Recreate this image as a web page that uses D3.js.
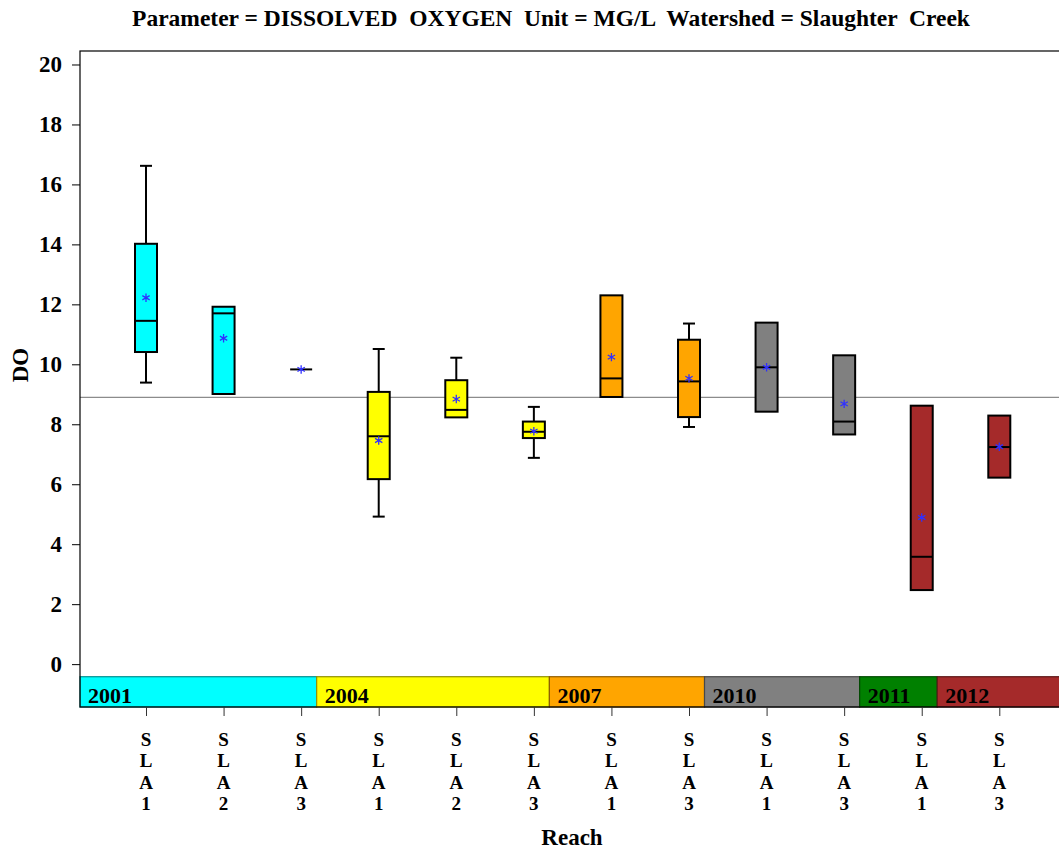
<!DOCTYPE html>
<html>
<head>
<meta charset="utf-8">
<script src="https://cdn.jsdelivr.net/npm/d3@7"></script>
<style>
    body { margin: 0; background: #fff; }
    svg text { font-family: 'Liberation Serif', serif; font-weight: bold; fill: #000; white-space: pre; }
</style>
</head>
<body>
<svg id="chart" width="1059" height="852"></svg>
<script>
// Box stats, one entry per reach/year group.
const reaches  = ['SLA1','SLA2','SLA3','SLA1','SLA2','SLA3','SLA1','SLA3','SLA1','SLA3','SLA1','SLA3'];
const boxColor = ['2001','2001','2001','2004','2004','2004','2007','2007','2010','2010','2012','2012'];
const whiskLo  = [9.39, 9.01, 9.83, 4.92, 8.23, 6.88, 8.91, 7.91, 8.42, 7.66, 2.47, 6.22];
const q1       = [10.41, 9.01, 9.83, 6.17, 8.23, 7.54, 8.91, 8.24, 8.42, 7.66, 2.47, 6.22];
const medians  = [11.45, 11.70, 9.83, 7.60, 8.48, 7.75, 9.53, 9.43, 9.90, 8.09, 3.58, 7.24];
const q3       = [14.02, 11.92, 9.83, 9.08, 9.47, 8.09, 12.30, 10.82, 11.39, 10.30, 8.62, 8.29];
const whiskHi  = [16.62, 11.92, 9.83, 10.51, 10.22, 8.58, 12.30, 11.36, 11.39, 10.30, 8.62, 8.29];
const means    = [12.22, 10.87, 9.83, 7.46, 8.84, 7.77, 10.24, 9.53, 9.90, 8.68, 4.89, 7.25];

// year blocks along the bottom, in category units
const years     = ['2001','2004','2007','2010','2011','2012'];
const yearStart = [-0.85, 2.2, 5.2, 7.2, 9.2, 10.2];
const yearEnd   = [2.2, 5.2, 7.2, 9.2, 10.2, 11.8];
const yearFill  = ['#00ffff','#ffff00','#ffa500','#808080','#008000','#a52a2a'];

const yTicks = d3.range(0, 21, 2);
const refLine = 8.9;

const svg = d3.select('#chart');
const pl = 80, pt = 51, pr = 1060, pb = 707;

const x = d3.scaleLinear().domain([0, 11]).range([146, 999.3]);
const y = d3.scaleLinear().domain([-1.43, 20.45]).range([pb, pt]);
const color = d3.scaleOrdinal().domain(years).range(yearFill);

const boxW = 22, capW = 12;

svg.append('text')
    .attr('x', 551).attr('y', 26)
    .attr('text-anchor', 'middle')
    .style('font-size', '23.5px')
    .text('Parameter = DISSOLVED  OXYGEN  Unit = MG/L  Watershed = Slaughter  Creek');

// reference line
svg.append('line')
    .attr('x1', pl).attr('x2', pr)
    .attr('y1', y(refLine)).attr('y2', y(refLine))
    .attr('stroke', '#8c8c8c').attr('stroke-width', 1.2);

// year blocks
const bandTop = y(-0.42);
const blocks = svg.append('g').selectAll('g').data(years).join('g');
blocks.append('rect')
    .attr('x', (d, i) => x(yearStart[i]))
    .attr('width', (d, i) => Math.min(x(yearEnd[i]), pr) - x(yearStart[i]))
    .attr('y', bandTop).attr('height', pb - bandTop)
    .attr('fill', d => color(d))
    .attr('stroke', d => d3.color(color(d)).darker(1.6))
    .attr('stroke-width', 1.2);
blocks.append('text')
    .attr('x', (d, i) => x(yearStart[i]) + 8)
    .attr('y', pb - 4)
    .style('font-size', '22px')
    .text(d => d);

// frame
svg.append('rect')
    .attr('x', pl).attr('y', pt)
    .attr('width', pr - pl).attr('height', pb - pt)
    .attr('fill', 'none').attr('stroke', '#000').attr('stroke-width', 1.2);

// y axis
const yAxis = svg.append('g')
    .attr('transform', `translate(${pl},0)`)
    .call(d3.axisLeft(y).tickValues(yTicks).tickSize(8).tickPadding(10));
yAxis.select('.domain').remove();
yAxis.selectAll('text').style('font-size', '23px').attr('font-family', null);

svg.append('text')
    .attr('transform', 'translate(28,365) rotate(-90)')
    .attr('text-anchor', 'middle')
    .style('font-size', '23px')
    .text('DO');

// x axis: ticks, then reach names written one character per line
const xAxis = svg.append('g')
    .attr('transform', `translate(0,${pb})`)
    .call(d3.axisBottom(x).tickValues(d3.range(reaches.length)).tickSize(9).tickFormat(''));
xAxis.select('.domain').remove();
xAxis.selectAll('line').attr('stroke', '#333');

svg.append('g').selectAll('text').data(reaches).join('text')
    .attr('text-anchor', 'middle')
    .attr('transform', (d, i) => `translate(${x(i)},746)`)
    .style('font-size', '19px')
    .selectAll('tspan').data(d => d.split('')).join('tspan')
    .attr('x', 0).attr('y', (c, j) => j * 21.3)
    .text(c => c);

svg.append('text')
    .attr('x', 572).attr('y', 845)
    .attr('text-anchor', 'middle')
    .style('font-size', '23px')
    .text('Reach');

// boxes, bound by index so every child can read the stat arrays
const boxes = svg.append('g').selectAll('g').data(d3.range(reaches.length)).join('g')
    .attr('transform', i => `translate(${x(i)},0)`);
const stroke = s => s.attr('stroke', '#000').attr('stroke-width', 2);

boxes.append('line')
    .attr('y1', i => y(whiskHi[i])).attr('y2', i => y(q3[i]))
    .call(stroke);
boxes.append('line')
    .attr('y1', i => y(whiskLo[i])).attr('y2', i => y(q1[i]))
    .call(stroke);
// caps only where the whisker sticks out of the box
boxes.filter(i => whiskHi[i] > q3[i]).append('line')
    .attr('x1', -capW / 2).attr('x2', capW / 2)
    .attr('y1', i => y(whiskHi[i])).attr('y2', i => y(whiskHi[i]))
    .call(stroke);
boxes.filter(i => whiskLo[i] < q1[i]).append('line')
    .attr('x1', -capW / 2).attr('x2', capW / 2)
    .attr('y1', i => y(whiskLo[i])).attr('y2', i => y(whiskLo[i]))
    .call(stroke);

boxes.append('rect')
    .attr('x', -boxW / 2).attr('width', boxW)
    .attr('y', i => y(q3[i]))
    .attr('height', i => y(q1[i]) - y(q3[i]))
    .attr('fill', i => color(boxColor[i]))
    .call(stroke);
boxes.append('line')
    .attr('x1', -boxW / 2).attr('x2', boxW / 2)
    .attr('y1', i => y(medians[i])).attr('y2', i => y(medians[i]))
    .call(stroke);
boxes.append('path')
    .attr('transform', i => `translate(0,${y(means[i])})`)
    .attr('d', d3.symbol(d3.symbolAsterisk, 50))
    .attr('fill', 'none')
    .attr('stroke', '#3030ff').attr('stroke-width', 1.3);
</script>
</body>
</html>
